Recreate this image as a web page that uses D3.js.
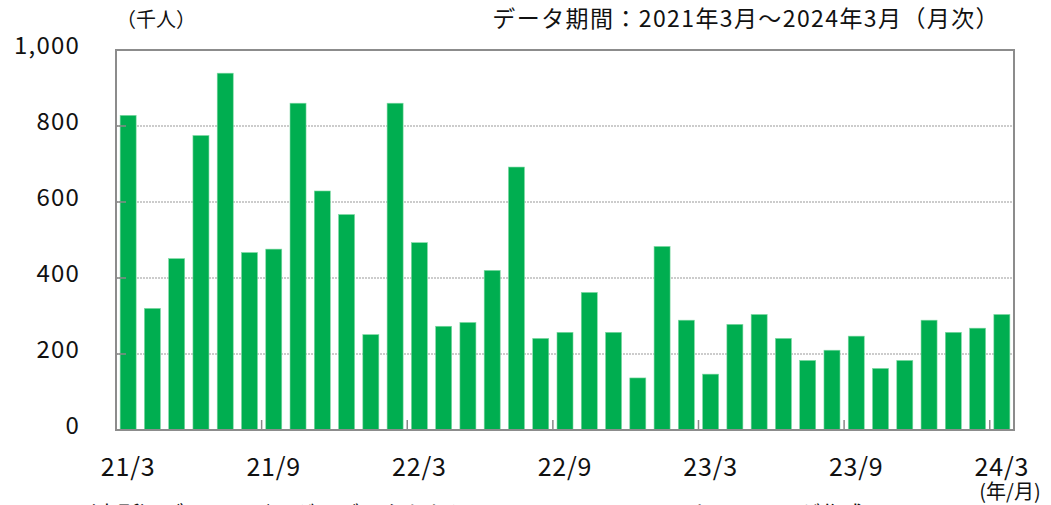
<!DOCTYPE html>
<html><head><meta charset="utf-8">
<script src="https://cdn.jsdelivr.net/npm/d3@7"></script>
<style>body{margin:0;background:#fff}svg{display:block}text{font-family:"Noto Sans CJK JP","Noto Sans",sans-serif;fill:#111}</style>
</head><body><svg id="c" width="1051" height="505"></svg>
<script>
const months = ["21/3","21/4","21/5","21/6","21/7","21/8","21/9","21/10","21/11","21/12","22/1","22/2","22/3","22/4","22/5","22/6","22/7","22/8","22/9","22/10","22/11","22/12","23/1","23/2","23/3","23/4","23/5","23/6","23/7","23/8","23/9","23/10","23/11","23/12","24/1","24/2","24/3"];
const values = [828,320,451,775,939,467,476,860,629,567,251,860,493,273,283,420,692,241,257,362,257,137,483,289,147,278,304,241,183,210,247,162,183,289,257,268,304];
const yTicks = [0,200,400,600,800,1000];
const xLabels = ["21/3","21/9","22/3","22/9","23/3","23/9","24/3"];

const svg = d3.select("#c");
const L=116,R=1014,T=50,B=430;
const x = d3.scaleBand().domain(months).range([L,R]).paddingInner(0.34).paddingOuter(0.17);
const y = d3.scaleLinear().domain([0,1000]).range([B,T]);
const step = x.step();

// gridlines
svg.append("g").selectAll("line").data(yTicks.filter(d=>d>0&&d<1000)).join("line")
  .attr("x1",L).attr("x2",R).attr("y1",d=>y(d)).attr("y2",d=>y(d))
  .attr("stroke","#999").attr("stroke-width",1).attr("stroke-dasharray","2,1");

// bars
svg.append("g").selectAll("rect").data(values).join("rect")
  .attr("x",(d,i)=>x(months[i])).attr("width",x.bandwidth())
  .attr("y",d=>y(d)).attr("height",d=>B-y(d))
  .attr("fill","#00ae50").attr("stroke","#7fd9a3").attr("stroke-width",0.6);

// y axis labels & ticks
svg.append("g").selectAll("line").data(yTicks.filter(d=>d>0&&d<1000)).join("line")
  .attr("x1",L).attr("x2",L+10).attr("y1",d=>y(d)).attr("y2",d=>y(d))
  .attr("stroke","#888").attr("stroke-width",1.5);
svg.append("g").selectAll("text").data(yTicks).join("text")
  .attr("x",80).attr("y",d=>y(d)+4).attr("text-anchor","end")
  .attr("font-size",24).attr("letter-spacing",1.2).text(d=>d3.format(",")(d));

// x ticks at category boundaries
svg.append("g").selectAll("line").data(xLabels.slice(1)).join("line")
  .attr("x1",d=>x(d)-(step-x.bandwidth())/2).attr("x2",d=>x(d)-(step-x.bandwidth())/2)
  .attr("y1",B).attr("y2",B-10).attr("stroke","#888").attr("stroke-width",1.5);
svg.append("g").selectAll("text").data(xLabels).join("text")
  .attr("x",d=>x(d)+x.bandwidth()/2).attr("y",476).attr("text-anchor","middle")
  .attr("font-size",25).attr("letter-spacing",0.8).text(d=>d);

// frame
svg.append("rect").attr("x",L).attr("y",T).attr("width",R-L).attr("height",B-T)
  .attr("fill","none").attr("stroke","#8c8c8c").attr("stroke-width",2);

svg.append("text").attr("x",116).attr("y",27).attr("font-size",20).text("（千人）");
svg.append("text").attr("x",1000).attr("y",27).attr("text-anchor","end").attr("font-size",23).attr("letter-spacing",1.4).text("データ期間：2021年3月～2024年3月（月次）");
svg.append("text").attr("x",1010).attr("y",499).attr("text-anchor","middle").attr("font-size",20).text("(年/月)");
svg.append("text").attr("x",74).attr("y",522).attr("font-size",22).text("（出所）ブルームバーグのデータをもとにニッセイアセットマネジメントが作成");
</script></body></html>
